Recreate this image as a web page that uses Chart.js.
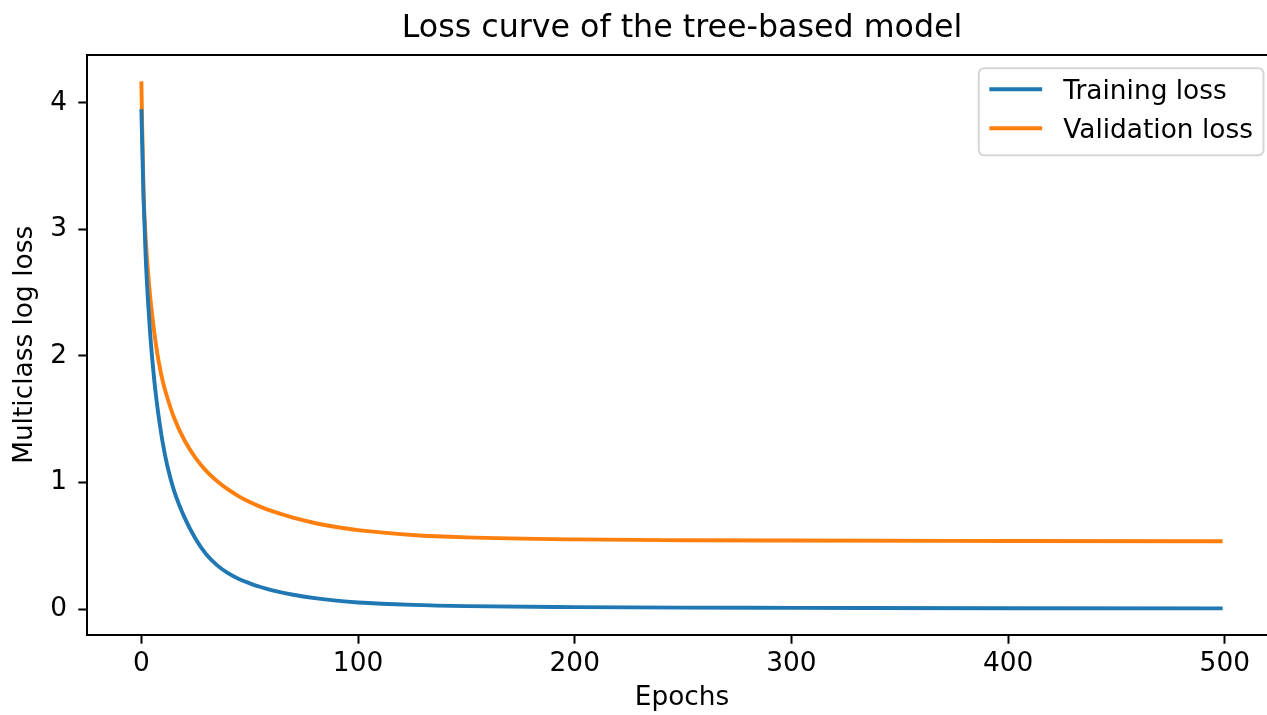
<!DOCTYPE html>
<html>
<head>
<meta charset="utf-8">
<script src="https://cdn.jsdelivr.net/npm/chart.js@4/dist/chart.umd.min.js"></script>
<style>
html,body{margin:0;padding:0;background:#fff;overflow:hidden;}
#wrap{position:absolute;left:0;top:0;width:1364px;height:715px;}
</style>
</head>
<body>
<div id="wrap"><canvas id="c" width="1364" height="715"></canvas></div>
<script>
// ---- data ----
const epochs = [0, 1, 2, 3, 4, 5, 6, 7, 8, 10, 12, 15, 20, 25, 30, 35, 40, 45, 50, 55, 60, 70, 80, 90, 100, 125, 150, 200, 250, 300, 400, 499];
const trainingLoss = [3.95, 3.25, 2.78, 2.45, 2.19, 1.98, 1.80, 1.65, 1.52, 1.30, 1.13, 0.94, 0.72, 0.555, 0.43, 0.345, 0.283, 0.237, 0.203, 0.174, 0.15, 0.113, 0.086, 0.066, 0.052, 0.033, 0.023, 0.015, 0.011, 0.009, 0.006, 0.005];
const validationLoss = [4.17, 3.30, 2.93, 2.68, 2.48, 2.32, 2.18, 2.06, 1.955, 1.79, 1.67, 1.515, 1.33, 1.195, 1.09, 1.01, 0.945, 0.89, 0.845, 0.807, 0.775, 0.722, 0.68, 0.648, 0.623, 0.585, 0.566, 0.55, 0.544, 0.541, 0.538, 0.536];
const seriesLabels = ['Training loss', 'Validation loss'];
const seriesColors = ['#1f77b4', '#ff7f0e'];
const xTicks = [0, 100, 200, 300, 400, 500];
const yTicks = [0, 1, 2, 3, 4];
const chartTitle = 'Loss curve of the tree-based model';
const xAxisTitle = 'Epochs';
const yAxisTitle = 'Multiclass log loss';

// ---- chart ----
Chart.defaults.font.family = '"DejaVu Sans", sans-serif';
Chart.defaults.color = '#000';

const FS = 26.4;

const mplLegend = {
  id: 'mplLegend',
  afterDraw(chart) {
    const {ctx, chartArea} = chart;
    const ds = chart.data.datasets;
    ctx.save();
    ctx.font = FS + 'px "DejaVu Sans", sans-serif';
    const textW = Math.max(...ds.map(d => ctx.measureText(d.label).width));
    const pad = 0.4 * FS, hl = 2 * FS, htp = 0.8 * FS;
    const w = pad + hl + htp + textW + pad;
    const h = 2 * pad + ds.length * FS + (ds.length - 1) * 0.5 * FS;
    const right = chartArea.right - 0.5 * FS;
    const left = right - w;
    const top = chartArea.top + 0.5 * FS;
    const r = 0.2 * FS;
    ctx.beginPath();
    ctx.moveTo(left + r, top);
    ctx.lineTo(left + w - r, top);
    ctx.arcTo(left + w, top, left + w, top + r, r);
    ctx.lineTo(left + w, top + h - r);
    ctx.arcTo(left + w, top + h, left + w - r, top + h, r);
    ctx.lineTo(left + r, top + h);
    ctx.arcTo(left, top + h, left, top + h - r, r);
    ctx.lineTo(left, top + r);
    ctx.arcTo(left, top, left + r, top, r);
    ctx.closePath();
    ctx.fillStyle = 'rgba(255,255,255,0.8)';
    ctx.fill();
    ctx.strokeStyle = 'rgba(204,204,204,0.8)';
    ctx.lineWidth = 2;
    ctx.stroke();
    ds.forEach((d, i) => {
      const cy = top + 21 + i * 39;
      ctx.beginPath();
      ctx.moveTo(left + pad, cy);
      ctx.lineTo(left + pad + hl, cy);
      ctx.strokeStyle = d.borderColor;
      ctx.lineWidth = 3.9;
      ctx.stroke();
      ctx.fillStyle = '#000';
      ctx.textAlign = 'left';
      ctx.textBaseline = 'alphabetic';
      ctx.fillText(d.label, left + pad + hl + htp, cy + 10);
    });
    ctx.restore();
  }
};

const tickFont = {size: FS};
const gridOpts = {display: true, drawOnChartArea: false, drawTicks: true, tickLength: 9, tickWidth: 2, tickColor: '#000'};
const borderOpts = {display: true, color: '#000', width: 2};

new Chart(document.getElementById('c'), {
  type: 'line',
  data: {
    datasets: [
      {
        label: seriesLabels[0],
        data: epochs.map((e, i) => ({x: e, y: trainingLoss[i]})),
        borderColor: seriesColors[0],
        backgroundColor: seriesColors[0],
        borderWidth: 3.9,
        pointRadius: 0,
        cubicInterpolationMode: 'monotone',
        fill: false,
        xAxisID: 'x', yAxisID: 'y'
      },
      {
        label: seriesLabels[1],
        data: epochs.map((e, i) => ({x: e, y: validationLoss[i]})),
        borderColor: seriesColors[1],
        backgroundColor: seriesColors[1],
        borderWidth: 3.9,
        pointRadius: 0,
        cubicInterpolationMode: 'monotone',
        fill: false,
        xAxisID: 'x', yAxisID: 'y'
      }
    ]
  },
  options: {
    responsive: false,
    animation: false,
    devicePixelRatio: 1,
    events: [],
    layout: {padding: 0},
    plugins: {
      legend: {display: false},
      tooltip: {enabled: false},
      title: {
        display: true,
        text: chartTitle,
        color: '#000',
        font: {size: 31.7, weight: 'normal'},
        padding: {top: 10, bottom: 7}
      }
    },
    scales: {
      x: {
        type: 'linear',
        position: 'bottom',
        min: -24.95,
        max: 523.95,
        afterBuildTicks: s => { s.ticks = xTicks.map(v => ({value: v})); },
        afterFit: s => { s.height = 80.3; },
        grid: gridOpts,
        border: borderOpts,
        ticks: {color: '#000', font: tickFont, padding: 4.5, maxRotation: 0, autoSkip: false},
        title: {display: true, text: xAxisTitle, color: '#000', font: tickFont, padding: {top: 0, bottom: 1.4}}
      },
      xTop: {
        type: 'linear',
        position: 'top',
        min: -24.95,
        max: 523.95,
        afterFit: s => { s.height = 0; },
        grid: {display: false},
        border: borderOpts,
        ticks: {display: false}
      },
      y: {
        type: 'linear',
        position: 'left',
        min: -0.203,
        max: 4.378,
        afterBuildTicks: s => { s.ticks = yTicks.map(v => ({value: v})); },
        afterFit: s => { s.width = 87.3; },
        grid: gridOpts,
        border: borderOpts,
        ticks: {color: '#000', font: tickFont, padding: 11.3},
        title: {display: true, text: yAxisTitle, color: '#000', font: tickFont, padding: {top: 9, bottom: 0}}
      },
      yRight: {
        type: 'linear',
        position: 'right',
        min: -0.203,
        max: 4.378,
        afterFit: s => { s.width = 87.3; },
        grid: {display: false},
        border: {display: false},
        ticks: {display: false}
      }
    }
  },
  plugins: [mplLegend]
});
</script>
</body>
</html>
